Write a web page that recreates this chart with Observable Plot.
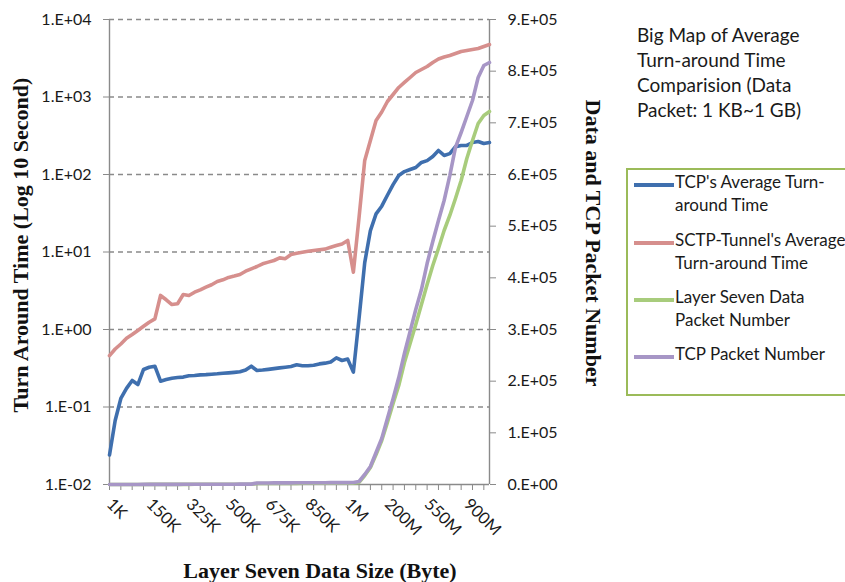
<!DOCTYPE html>
<html><head><meta charset="utf-8">
<script src="https://cdn.jsdelivr.net/npm/d3@7"></script>
<script src="https://cdn.jsdelivr.net/npm/@observablehq/plot@0.6"></script>
<style>
body{margin:0;background:#fff;}
#wrap{position:relative;width:845px;height:582px;overflow:hidden;font-family:Lato,"Open Sans",sans-serif;background:#fff;}
#wrap svg{position:absolute;left:0;top:0;overflow:visible;}
.axt{position:absolute;white-space:nowrap;font-family:"Liberation Serif","Times New Roman",serif;font-weight:bold;font-size:22px;color:#111;}
.title{position:absolute;left:637px;top:22px;font-size:19px;line-height:25px;color:#1a1a1a;white-space:nowrap;}
.legend{position:absolute;left:626px;top:168px;width:240px;height:228px;border:2.5px solid #9BBB59;box-sizing:border-box;}
.lg{position:absolute;left:6px;}
.lg .sw{position:absolute;left:0;width:40px;height:3.5px;}
.lg .tx{position:absolute;left:41px;top:-13px;font-size:17px;line-height:23px;color:#1a1a1a;white-space:nowrap;}
</style>
</head><body>
<div id="wrap"></div>
<script>
const categories = ["1K","10K","25K","50K","75K","100K","125K","150K","175K","200K","225K","250K","275K","300K","325K","350K","375K","400K","425K","450K","475K","500K","525K","550K","575K","600K","625K","650K","675K","700K","725K","750K","775K","800K","825K","850K","875K","900K","925K","950K","975K","1000K","1M","25M","50M","100M","125M","150M","175M","200M","250M","300M","350M","400M","450M","500M","550M","600M","650M","700M","750M","800M","850M","900M","925M","950M","975M","1G"];
const xLabelCats = ["1K","150K","325K","500K","675K","850K","1M","200M","550M","900M"];

// TCP's Average Turn-around Time (seconds, left log axis)
const tcpTime = [0.024,0.067,0.129,0.174,0.22,0.195,0.305,0.326,0.336,0.215,0.226,0.235,0.24,0.243,0.253,0.255,0.26,0.262,0.265,0.268,0.273,0.276,0.28,0.285,0.30,0.336,0.296,0.30,0.306,0.313,0.32,0.326,0.333,0.35,0.34,0.34,0.346,0.36,0.368,0.38,0.43,0.398,0.415,0.282,1.39,7.3,18.9,31,39,54,74,97,109,116,123,143,151,171,204,176,186,229,237,237,259,267,251,259];
// SCTP-Tunnel's Average Turn-around Time
const sctpTime = [0.46,0.56,0.65,0.77,0.86,0.97,1.10,1.24,1.37,2.75,2.42,2.10,2.15,2.83,2.75,3.03,3.25,3.52,3.78,4.16,4.38,4.7,4.9,5.13,5.65,6.07,6.5,7.05,7.4,7.77,8.4,8.2,9.3,9.66,9.94,10.2,10.45,10.7,10.9,11.5,12.1,12.7,14.1,5.5,28,152,275,497,640,875,1077,1327,1540,1786,2072,2265,2477,2789,3093,3283,3430,3640,3865,3980,4100,4225,4485,4755];
// Layer Seven Data Packet Number (right axis)
const layer7Packets = [1,10,25,50,75,100,125,150,175,200,225,250,275,300,325,350,375,400,425,450,475,500,525,550,575,600,1900,1950,2000,2050,2100,2150,2200,2250,2300,2350,2400,2450,2500,2550,2600,2650,2700,2750,3900,17400,32900,58000,85000,120000,157000,191600,236000,273000,309700,348400,387100,423900,456800,491600,520700,553500,588400,631000,665800,698700,714200,722000];
// TCP Packet Number (right axis)
const tcpPackets = [1,12,30,60,90,120,150,180,210,240,270,300,330,360,390,420,450,480,510,540,570,600,630,660,690,720,2900,2950,3000,3050,3100,3150,3200,3250,3300,3350,3400,3450,3500,3550,3600,3650,3700,3750,5800,19400,34800,62000,89000,128000,166000,207000,253500,296000,338700,377400,427700,470300,511000,549700,598000,652300,681300,712300,743200,787700,811000,816800];

const leftTicks = [0.01,0.1,1,10,100,1000,10000];
const leftTickLabels = ["1.E-02","1.E-01","1.E+00","1.E+01","1.E+02","1.E+03","1.E+04"];
const rightTicks = [0,100000,200000,300000,400000,500000,600000,700000,800000,900000];
const rightTickLabels = ["0.E+00","1.E+05","2.E+05","3.E+05","4.E+05","5.E+05","6.E+05","7.E+05","8.E+05","9.E+05"];

const titleLines = ["Big Map of Average","Turn-around Time","Comparision (Data","Packet: 1 KB~1 GB)"];
const seriesNames = [["TCP's Average Turn-","around Time"],["SCTP-Tunnel's Average","Turn-around Time"],["Layer Seven Data","Packet Number"],["TCP Packet Number"]];
const seriesColors = ["#3f6fae","#d68f8d","#a8cc7c","#a796c6"];
const leftTitle = "Turn Around  Time (Log 10 Second)";
const rightTitle = "Data and TCP Packet Number";
const bottomTitle = "Layer Seven Data Size (Byte)";

const W = 845, H = 582, mL = 109, mR = 356, mT = 19, mB = 98;
const gray = "#8a8a8a";
const rows = categories.map((c, i) => ({c, tcp: tcpTime[i], sctp: sctpTime[i], l7: layer7Packets[i], tp: tcpPackets[i]}));
const xOpt = {type: "point", domain: categories, padding: 0};
const style = {fontFamily: "Lato, 'Open Sans', sans-serif", fontSize: "16px", color: "#1a1a1a", background: "transparent", overflow: "visible"};
const lineOpts = {strokeWidth: 3.6, strokeLinejoin: "round", strokeLinecap: "round"};

const main = Plot.plot({
  width: W, height: H, marginLeft: mL, marginRight: mR, marginTop: mT, marginBottom: mB,
  style,
  x: xOpt,
  y: {type: "log", domain: [0.01, 10000]},
  marks: [
    Plot.ruleY(leftTicks.slice(1), {stroke: gray, strokeDasharray: "5,4", strokeWidth: 1.3}),
    Plot.ruleY([0.01], {stroke: gray, strokeWidth: 1.4}),
    Plot.ruleX([categories[0]], {stroke: gray, strokeWidth: 1.4}),
    Plot.ruleX([categories[categories.length - 1]], {stroke: gray, strokeWidth: 1.4}),
    Plot.axisY(leftTicks, {anchor: "left", tickSize: 6, tickPadding: 12, stroke: gray, label: null,
      tickFormat: d => leftTickLabels[leftTicks.indexOf(d)]}),
    Plot.axisX(categories.filter((_, i) => i % 2 === 0), {anchor: "bottom", tickSize: 6, stroke: gray, label: null, tickFormat: () => ""}),
    Plot.axisX(xLabelCats, {anchor: "bottom", tickSize: 0, tickPadding: 17, tickRotate: 45, textAnchor: "start", label: null, fontSize: 16.5}),
    Plot.line(rows, {x: "c", y: "tcp", stroke: seriesColors[0], ...lineOpts}),
    Plot.line(rows, {x: "c", y: "sctp", stroke: seriesColors[1], ...lineOpts})
  ]
});

const right = Plot.plot({
  width: W, height: H, marginLeft: mL, marginRight: mR, marginTop: mT, marginBottom: mB,
  style,
  x: {...xOpt, axis: null},
  y: {type: "linear", domain: [0, 900000]},
  marks: [
    Plot.axisY(rightTicks, {anchor: "right", tickSize: 6, tickPadding: 12, stroke: gray, label: null,
      tickFormat: d => rightTickLabels[rightTicks.indexOf(d)]}),
    Plot.line(rows, {x: "c", y: "l7", stroke: seriesColors[2], ...lineOpts}),
    Plot.line(rows, {x: "c", y: "tp", stroke: seriesColors[3], ...lineOpts})
  ]
});

const wrap = document.getElementById("wrap");
wrap.appendChild(main);
wrap.appendChild(right);

function addDiv(cls, text, css) {
  const d = document.createElement("div");
  d.className = cls; d.textContent = text;
  Object.assign(d.style, css);
  wrap.appendChild(d);
  return d;
}
addDiv("axt", leftTitle, {left: "21px", top: "245px", transform: "translate(-50%,-50%) rotate(-90deg)"});
addDiv("axt", rightTitle, {left: "593px", top: "243px", transform: "translate(-50%,-50%) rotate(90deg)"});
addDiv("axt", bottomTitle, {left: "320px", top: "571px", transform: "translate(-50%,-50%)"});

const t = document.createElement("div");
t.className = "title";
t.innerHTML = titleLines.map(s => `<div>${s}</div>`).join("");
wrap.appendChild(t);

const lg = document.createElement("div");
lg.className = "legend";
const entryTops = [13, 71, 128, 185];
seriesNames.forEach((lines, i) => {
  const e = document.createElement("div");
  e.className = "lg";
  e.style.top = entryTops[i] + "px";
  const sw = document.createElement("div");
  sw.className = "sw"; sw.style.background = seriesColors[i];
  const tx = document.createElement("div");
  tx.className = "tx";
  tx.innerHTML = lines.map(s => `<div>${s}</div>`).join("");
  e.appendChild(sw); e.appendChild(tx);
  lg.appendChild(e);
});
wrap.appendChild(lg);
</script>
</body></html>
